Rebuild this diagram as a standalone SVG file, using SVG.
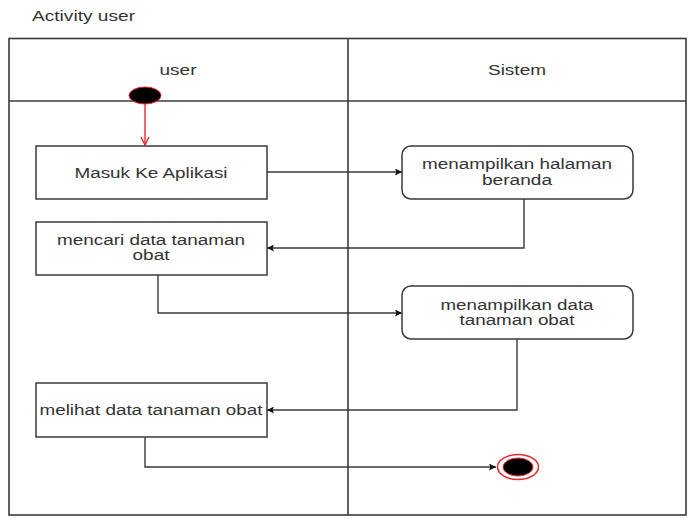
<svg xmlns="http://www.w3.org/2000/svg" width="688" height="519" viewBox="0 0 688 519">
  <style>
    .frame { fill: none; stroke: #3a3a3a; stroke-width: 1.6; }
    .act { fill: #ffffff; stroke: #3a3a3a; stroke-width: 1.5; }
    .txt { font-family: "Liberation Sans", Arial, sans-serif; font-size: 14px; fill: #333333; text-anchor: middle; }
    .lane { font-family: "Liberation Sans", Arial, sans-serif; font-size: 14px; fill: #333333; text-anchor: middle; }
    .flow { fill: none; stroke: #3a3a3a; stroke-width: 1.4; }
    .start { fill: none; stroke: #e8282b; stroke-width: 1.4; }
  </style>
  <defs>
    <marker id="arrow" viewBox="0 0 10 10" refX="10" refY="5" markerWidth="7" markerHeight="7" markerUnits="userSpaceOnUse" orient="auto">
      <path d="M0,0 L10,5 L0,10 L2,5 Z" fill="#111111"/>
    </marker>
    <marker id="openRed" viewBox="0 0 10 10" refX="9" refY="5" markerWidth="10" markerHeight="10" markerUnits="userSpaceOnUse" orient="auto">
      <path d="M1,1 L9,5 L1,9" fill="none" stroke="#e8282b" stroke-width="1.4"/>
    </marker>
  </defs>

  <rect width="688" height="519" fill="#ffffff"/>

  <text x="32" y="21" font-family="Liberation Sans, Arial, sans-serif" font-size="14" fill="#333333" textLength="103" lengthAdjust="spacingAndGlyphs">Activity user</text>

  <!-- swimlane frame -->
  <g id="lanes">
    <rect class="frame" x="9" y="38.5" width="677" height="476.5"/>
    <line class="frame" x1="9" y1="101" x2="686" y2="101"/>
    <line class="frame" x1="348" y1="38.5" x2="348" y2="515"/>
    <text class="lane" x="178" y="75" textLength="37" lengthAdjust="spacingAndGlyphs">user</text>
    <text class="lane" x="517" y="75" textLength="58" lengthAdjust="spacingAndGlyphs">Sistem</text>
  </g>

  <!-- connectors -->
  <g id="connectors">
    <line class="start" x1="145" y1="104" x2="145" y2="145" marker-end="url(#openRed)"/>
    <path class="flow" d="M267,172 L402,172" marker-end="url(#arrow)"/>
    <path class="flow" d="M524,199 L524,248 L267,248" marker-end="url(#arrow)"/>
    <path class="flow" d="M158,275 L158,313 L402,313" marker-end="url(#arrow)"/>
    <path class="flow" d="M517,339 L517,410 L267,410" marker-end="url(#arrow)"/>
    <path class="flow" d="M145,437 L145,467 L496,467" marker-end="url(#arrow)"/>
  </g>

  <g id="start-node">
    <ellipse cx="145" cy="95.5" rx="16" ry="8.5" fill="#000000" stroke="#e8282b" stroke-width="1"/>
  </g>

  <g id="masuk-ke-aplikasi">
    <rect class="act" x="36" y="146" width="231" height="53"/>
    <text class="txt" x="151" y="178" textLength="153" lengthAdjust="spacingAndGlyphs">Masuk Ke Aplikasi</text>
  </g>

  <g id="menampilkan-halaman-beranda">
    <rect class="act" x="402" y="146" width="231" height="53" rx="9" ry="9"/>
    <text class="txt" x="517" y="169" textLength="190" lengthAdjust="spacingAndGlyphs">menampilkan halaman</text>
    <text class="txt" x="517" y="185" textLength="70" lengthAdjust="spacingAndGlyphs">beranda</text>
  </g>

  <g id="mencari-data-tanaman-obat">
    <rect class="act" x="36" y="222" width="231" height="53"/>
    <text class="txt" x="151" y="245" textLength="188" lengthAdjust="spacingAndGlyphs">mencari data tanaman</text>
    <text class="txt" x="151" y="260" textLength="37" lengthAdjust="spacingAndGlyphs">obat</text>
  </g>

  <g id="menampilkan-data-tanaman-obat">
    <rect class="act" x="402" y="286" width="231" height="53" rx="9" ry="9"/>
    <text class="txt" x="517" y="310" textLength="153" lengthAdjust="spacingAndGlyphs">menampilkan data</text>
    <text class="txt" x="517" y="325" textLength="115" lengthAdjust="spacingAndGlyphs">tanaman obat</text>
  </g>

  <g id="melihat-data-tanaman-obat">
    <rect class="act" x="36" y="383" width="231" height="54"/>
    <text class="txt" x="151" y="415" textLength="223" lengthAdjust="spacingAndGlyphs">melihat data tanaman obat</text>
  </g>

  <g id="end-node">
    <ellipse cx="518" cy="467" rx="20.5" ry="12.5" fill="#ffffff" stroke="#e8282b" stroke-width="1.5"/>
    <ellipse cx="518" cy="467" rx="15" ry="9" fill="#000000" stroke="#e8282b" stroke-width="1"/>
  </g>
</svg>
